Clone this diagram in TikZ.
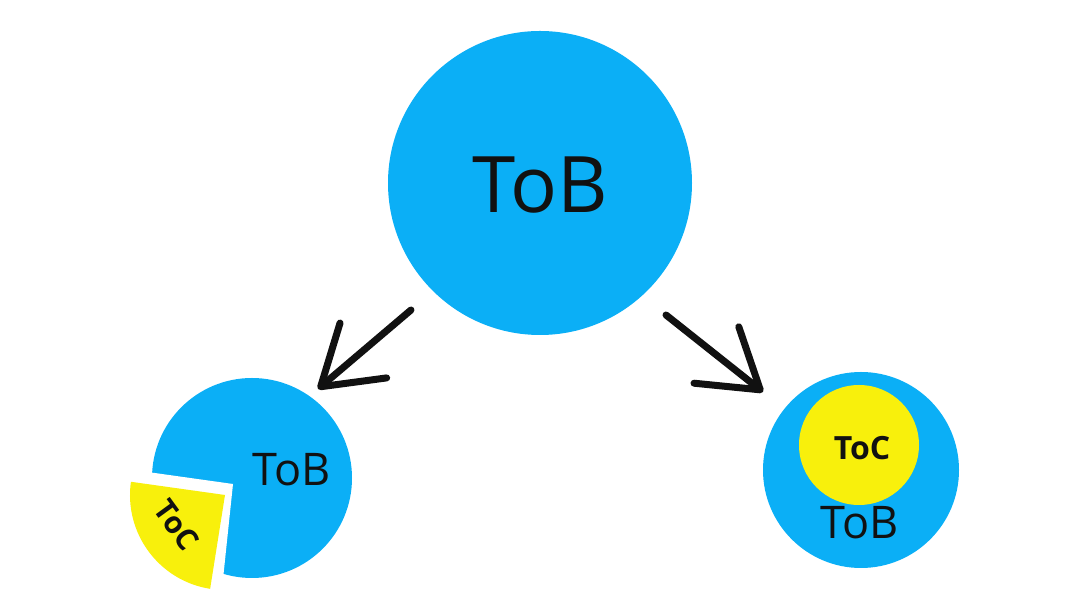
\documentclass[tikz,border=0pt]{standalone}
\usepackage{fontspec}
\setmainfont{Open Sans}
\usetikzlibrary{arrows.meta}
\definecolor{tobblue}{HTML}{0BAFF6}
\definecolor{tocyellow}{HTML}{F8F00C}
\definecolor{tobink}{HTML}{111111}
\tikzset{
  blob/.style={circle, fill=tobblue, inner sep=0pt, text=tobink},
  core/.style={circle, fill=tocyellow, inner sep=0pt, text=tobink},
  big/.style={font=\fontsize{78}{78}\selectfont, text=tobink},
  mid/.style={font=\fontsize{45}{45}\selectfont, text=tobink},
  tag/.style={font=\fontsize{32}{32}\selectfont\bfseries, text=tobink},
  arr/.style={-{Straight Barb[length=56pt, width=72pt, round]}, line width=7pt, line cap=round, color=tobink},
}
\begin{document}
\begin{tikzpicture}[x=1pt, y=1pt]
    \useasboundingbox (0,0) rectangle (1080,607);
    % top circle
    \node[blob, minimum size=304pt, big] (top) at (540,424) {};
    \node[big] (toplbl) at (540,422) {ToB};
    % left: slice cut out
    \fill[tobblue] (252,129) circle (100);
    \fill[white] (233,123) -- ++(172:130) arc[start angle=172, end angle=264, radius=130] -- cycle;
    \fill[tocyellow] (225,112) -- ++(172:95) arc[start angle=172, end angle=261, radius=95] -- cycle;
    \node[mid] (leftlbl) at (292,137) {ToB};
    \node[tag, rotate=-54, font=\fontsize{30}{30}\selectfont\bfseries] (slicelbl) at (177,82) {ToC};
    % right: core inside
    \node[blob, minimum size=196pt] (right) at (861,137) {};
    \node[core, minimum size=120pt] (inner) at (859,162) {};
    \node[tag] (innerlbl) at (862,159) {ToC};
    \node[mid] (rightlbl) at (860,84) {ToB};
    % arrows
    \coordinate (la) at (411,297);
    \coordinate (lb) at (318,218);
    \coordinate (ra) at (666,292);
    \coordinate (rb) at (763,215);
    \draw[arr] (la) -- (lb);
    \draw[arr] (ra) -- (rb);
  \end{tikzpicture}
\end{document}
